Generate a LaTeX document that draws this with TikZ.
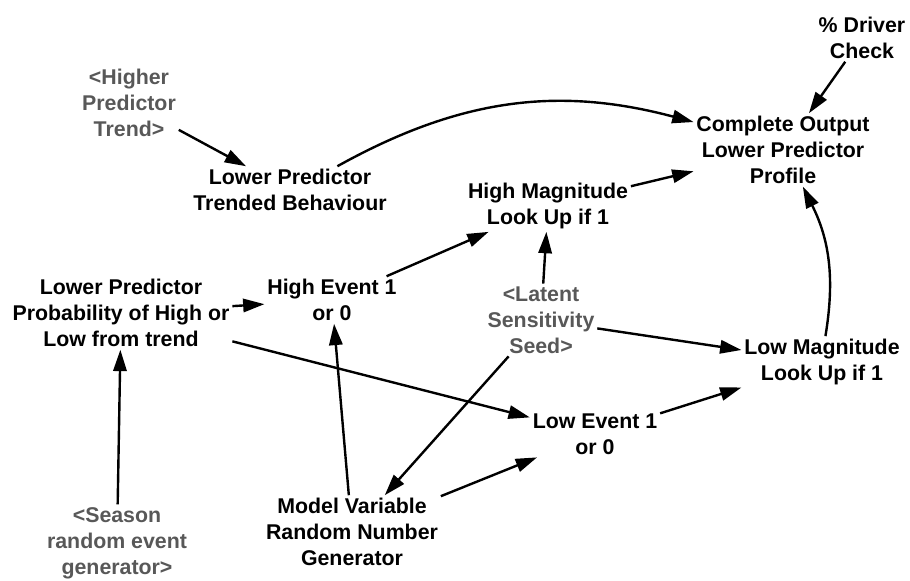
\documentclass[tikz,border=0pt]{standalone}
\usepackage{fontspec}
\setmainfont{Liberation Sans}
\usetikzlibrary{arrows.meta,positioning}
\definecolor{shadowgray}{RGB}{88,88,88}

\begin{document}
\begin{tikzpicture}[x=0.75pt, y=-0.75pt]
		\useasboundingbox (0,0) rectangle (910,581);
		\begin{scope}[every node/.style={align=center, inner sep=2pt, font=\bfseries\fontsize{16}{19.5}\selectfont}]
			\node (driver) at (862,38) {\% Driver\\Check};
			\node (complete) at (783,150) {Complete Output\\Lower Predictor\\Profile};
			\node[text=shadowgray] (higher) at (129,103) {<Higher\\Predictor\\Trend>};
			\node (trended) at (290,190) {Lower Predictor\\Trended Behaviour};
			\node (highmag) at (548,206) {High Magnitude\\Look Up if 1};
			\node (prob) at (121,313) {Lower Predictor\\Probability of High or\\Low from trend};
			\node (highev) at (332,300) {High Event 1\\or 0};
			\node[text=shadowgray] (latent) at (541,320) {<Latent\\Sensitivity\\Seed>};
			\node (lowmag) at (822,362) {Low Magnitude\\Look Up if 1};
			\node (lowev) at (595,434) {Low Event 1\\or 0};
			\node (model) at (352,532) {Model Variable\\Random Number\\Generator};
			\node[text=shadowgray] (season) at (117,543) {<Season\\random event\\generator>};
		\end{scope}
		\begin{scope}[every path/.style={line width=1.8pt, -{Triangle[length=16pt,width=10pt]}}]
			\path (higher)
				edge (trended);
			\path (trended)
				edge[bend left=22] (complete);
			\path (driver)
				edge (complete);
			\path (highmag)
				edge (complete);
			\path (lowmag)
				edge[bend right=18] (complete);
			\path (prob)
				edge (highev)
				edge (lowev);
			\path (season)
				edge (prob);
			\path (model)
				edge (highev)
				edge (lowev);
			\path (highev)
				edge (highmag);
			\path (latent)
				edge (highmag)
				edge (model)
				edge (lowmag);
			\path (lowev)
				edge (lowmag);
		\end{scope}
	\end{tikzpicture}
\end{document}
